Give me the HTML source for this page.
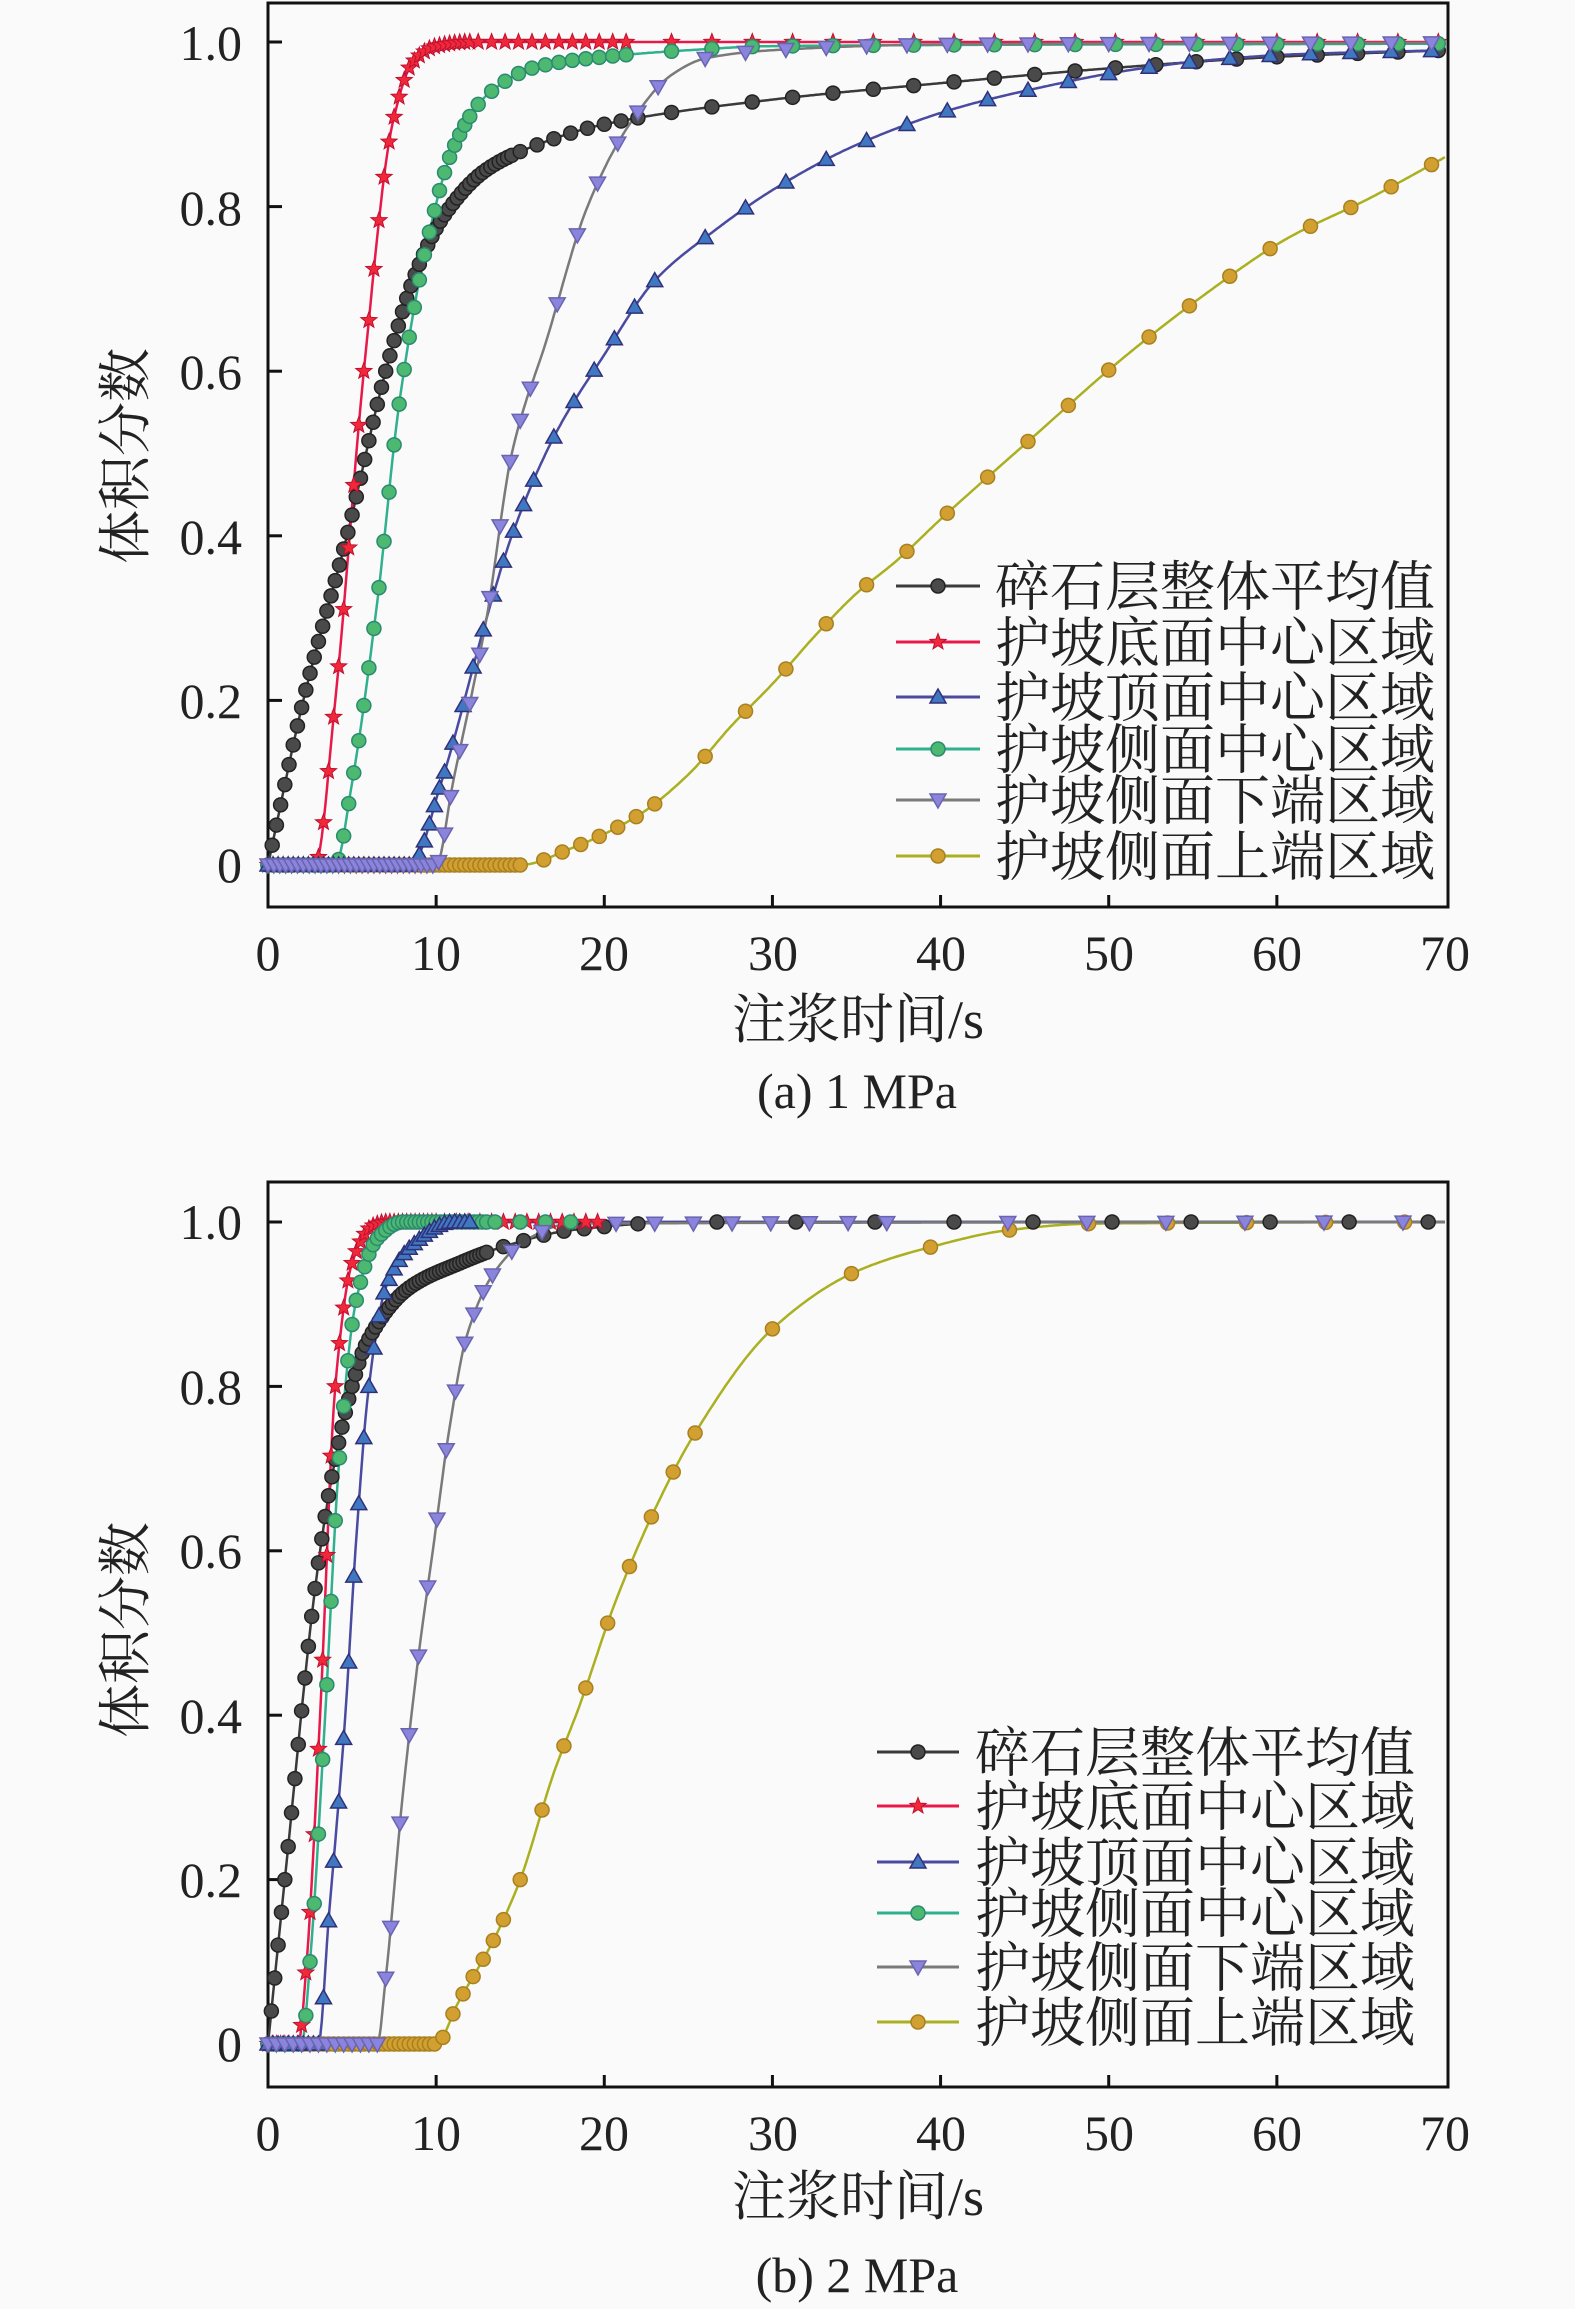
<!DOCTYPE html>
<html><head><meta charset="utf-8">
<style>
html,body{margin:0;padding:0;background:#fafafa;}
svg{display:block;}
text{font-family:"Liberation Serif","Noto Serif CJK SC",serif;fill:#222;}
</style></head>
<body>
<svg id="s" width="1575" height="2309" viewBox="0 0 1575 2309" xmlns="http://www.w3.org/2000/svg">
<rect width="1575" height="2309" fill="#fafafa"/>
<g font-size="50" text-anchor="end">
<text x="242" y="60">1.0</text><text x="242" y="225">0.8</text><text x="242" y="389">0.6</text>
<text x="242" y="554">0.4</text><text x="242" y="718">0.2</text><text x="242" y="882">0</text>
</g>
<g font-size="50" text-anchor="middle">
<text x="268" y="970">0</text><text x="436" y="970">10</text><text x="604" y="970">20</text><text x="773" y="970">30</text>
<text x="941" y="970">40</text><text x="1109" y="970">50</text><text x="1277" y="970">60</text><text x="1445" y="970">70</text>
</g>
<text x="858" y="1038" font-size="54" text-anchor="middle">注浆时间/s</text>
<text x="857" y="1108" font-size="50" text-anchor="middle">(a) 1 MPa</text>
<text transform="translate(144,456) rotate(-90)" font-size="54" text-anchor="middle">体积分数</text>
<g font-size="50" text-anchor="end">
<text x="242" y="1239">1.0</text><text x="242" y="1404">0.8</text><text x="242" y="1568">0.6</text>
<text x="242" y="1733">0.4</text><text x="242" y="1897">0.2</text><text x="242" y="2061">0</text>
</g>
<g font-size="50" text-anchor="middle">
<text x="268" y="2150">0</text><text x="436" y="2150">10</text><text x="604" y="2150">20</text><text x="773" y="2150">30</text>
<text x="941" y="2150">40</text><text x="1109" y="2150">50</text><text x="1277" y="2150">60</text><text x="1445" y="2150">70</text>
</g>
<text x="858" y="2215" font-size="54" text-anchor="middle">注浆时间/s</text>
<text x="857" y="2292" font-size="50" text-anchor="middle">(b) 2 MPa</text>
<text transform="translate(144,1630) rotate(-90)" font-size="54" text-anchor="middle">体积分数</text>
<g id="plots"></g>
</svg>
<script>
(function(){
var NS="http://www.w3.org/2000/svg";
var root=document.getElementById('plots');
function el(n,a,p){var e=document.createElementNS(NS,n);for(var k in a)e.setAttribute(k,a[k]);(p||root).appendChild(e);return e;}
function pchip(P){
  var n=P.length,xs=P.map(p=>p[0]),ys=P.map(p=>p[1]),h=[],d=[],m=[];
  for(var i=0;i<n-1;i++){h[i]=xs[i+1]-xs[i];d[i]=(ys[i+1]-ys[i])/h[i];}
  m[0]=d[0];m[n-1]=d[n-2];
  for(var i=1;i<n-1;i++){ if(d[i-1]*d[i]<=0)m[i]=0; else{var w1=2*h[i]+h[i-1],w2=h[i]+2*h[i-1];m[i]=(w1+w2)/(w1/d[i-1]+w2/d[i]);}}
  return function(t){
    if(t<=xs[0])return ys[0]; if(t>=xs[n-1])return ys[n-1];
    var i=0;while(t>xs[i+1])i++;
    var s=(t-xs[i])/h[i],s2=s*s,s3=s2*s;
    return (2*s3-3*s2+1)*ys[i]+(s3-2*s2+s)*h[i]*m[i]+(-2*s3+3*s2)*ys[i+1]+(s3-s2)*h[i]*m[i+1];
  };
}
function marker(type,x,y,g){
  var r=7;
  if(type=='c'){el('circle',{cx:x,cy:y,r:r,fill:g.fill,stroke:g.edge,'stroke-width':1.5});}
  else if(type=='s'){var p=[];for(var k=0;k<10;k++){var a=-Math.PI/2+k*Math.PI/5,rr=k%2?3.6:8.5;p.push((x+rr*Math.cos(a)).toFixed(1)+','+(y+rr*Math.sin(a)).toFixed(1));}
    el('polygon',{points:p.join(' '),fill:g.fill,stroke:g.edge,'stroke-width':1});}
  else if(type=='u'){el('polygon',{points:(x)+','+(y-8)+' '+(x-8)+','+(y+6)+' '+(x+8)+','+(y+6),fill:g.fill,stroke:g.edge,'stroke-width':1.5});}
  else if(type=='d'){el('polygon',{points:(x)+','+(y+8)+' '+(x-8)+','+(y-6)+' '+(x+8)+','+(y-6),fill:g.fill,stroke:g.edge,'stroke-width':1.5});}
}
var ST={
 k:{line:'#3a3a3a',fill:'#4a4a4a',edge:'#222',m:'c'},
 r:{line:'#e8194a',fill:'#f0283a',edge:'#c01030',m:'s'},
 b:{line:'#4a4aa0',fill:'#3f78c0',edge:'#30307a',m:'u'},
 g:{line:'#30b08c',fill:'#4cb870',edge:'#2a8a70',m:'c'},
 p:{line:'#7a7a7a',fill:'#8a84dc',edge:'#6a64b0',m:'d'},
 y:{line:'#aab020',fill:'#d2a030',edge:'#a88020',m:'c'}
};
function chart(y0,y1,series){
  var X0=268,sx=(1445-268)/70;
  function X(t){return X0+t*sx;} function Y(v){return y0+(y1-y0)*v;}
  series.forEach(function(s){
    var st=ST[s.c],f=pchip(s.p),pts=[];
    for(var t=0;t<=70.001;t+=0.1)pts.push(X(t).toFixed(1)+','+Y(Math.min(1,Math.max(0,f(t)))).toFixed(1));
    el('polyline',{points:pts.join(' '),fill:'none',stroke:st.line,'stroke-width':2.5});
  });
  series.forEach(function(s){
    var st=ST[s.c],f=pchip(s.p);
    s.mk.forEach(function(seg){for(var t=seg[0];t<=seg[1]+1e-6;t+=seg[2]){var v=Math.min(1,Math.max(0,f(t)));marker(st.m,X(t),Y(v),st);}});
  });
}
function frame(top,bot,y0,y1){
  el('rect',{x:268,y:top,width:1180,height:bot-top,fill:'none',stroke:'#111','stroke-width':3});
  for(var i=1;i<7;i++){var x=268+i*(1445-268)/7;el('line',{x1:x,y1:bot,x2:x,y2:bot-12,stroke:'#111','stroke-width':3});}
  for(var j=0;j<=5;j++){var y=y0+(y1-y0)*j/5;el('line',{x1:268,y1:y,x2:282,y2:y,stroke:'#111','stroke-width':3});}
}
function legend(x1,x2,tx,ys,fs){
  var keys=['k','r','b','g','p','y'],labs=['碎石层整体平均值','护坡底面中心区域','护坡顶面中心区域','护坡侧面中心区域','护坡侧面下端区域','护坡侧面上端区域'];
  keys.forEach(function(k,i){var st=ST[k];var y=ys[i];
    el('line',{x1:x1,y1:y,x2:x2,y2:y,stroke:st.line,'stroke-width':3});
    marker(st.m,(x1+x2)/2,y,st);
    var t=el('text',{x:tx,y:y+fs*0.36,'font-size':fs,textLength:440,lengthAdjust:'spacingAndGlyphs'});t.textContent=labs[i];});
}
var A=[
 {c:'y',p:[[0,0],[15,0],[18,0.02],[22,0.06],[25,0.11],[27.6,0.17],[30,0.22],[32.6,0.28],[35,0.33],[37.4,0.37],[40,0.42],[45.5,0.52],[50.5,0.61],[55.5,0.69],[60.5,0.76],[65.5,0.81],[70,0.86]],
  mk:[[0,15,0.3],[16.4,24,1.1],[26,70,2.4]]},
 {c:'k',p:[[0,0],[2.1,0.2],[4.7,0.4],[7,0.6],[8.8,0.72],[10.5,0.79],[13,0.845],[16,0.875],[20,0.9],[30,0.93],[40,0.95],[50,0.968],[60,0.982],[70,0.99]],
  mk:[[0,14.5,0.25],[15,22,1],[24,70,2.4]]},
 {c:'r',p:[[0,0],[2.8,0],[4,0.2],[5.7,0.6],[7.4,0.9],[8.6,0.975],[10,0.995],[12,1],[70,1]],
  mk:[[0,12,0.3],[12.5,22,0.8],[24,70,2.4]]},
 {c:'g',p:[[0,0],[4,0],[5,0.1],[6.5,0.32],[7.8,0.56],[9.5,0.76],[11,0.87],[13,0.935],[16,0.97],[20,0.982],[25,0.99],[30,0.995],[70,0.998]],
  mk:[[0,12,0.3],[12.5,22,0.8],[24,70,2.4]]},
 {c:'b',p:[[0,0],[8.5,0],[10.3,0.1],[13,0.3],[14.5,0.4],[17,0.52],[20,0.62],[23,0.71],[26.5,0.77],[30,0.82],[35,0.875],[41,0.92],[46,0.945],[51,0.965],[56,0.978],[61,0.985],[70,0.99]],
  mk:[[0,10.5,0.3],[11,16,0.6],[17,24,1.2],[26,70,2.4]]},
 {c:'p',p:[[0,0],[10,0],[11,0.1],[13,0.3],[14.5,0.5],[16.6,0.64],[19,0.8],[21.5,0.9],[24,0.96],[26,0.98],[30,0.99],[40,0.997],[70,0.999]],
  mk:[[0,11,0.35],[11.4,16,0.6],[17.2,24,1.2],[26,70,2.4]]}
];
frame(3,907,865,42);
chart(865,42,A);
legend(896,980,995,[586,642,697,749,800,856],54);
var B=[
 {c:'y',p:[[0,0],[10,0],[11.3,0.05],[13.5,0.13],[15,0.2],[17,0.33],[18.5,0.41],[20.7,0.54],[23,0.65],[25.3,0.74],[30,0.87],[35,0.94],[39.5,0.97],[44,0.99],[49,0.998],[70,1]],
  mk:[[0,10,0.3],[10.4,14,0.6],[15,26,1.3],[30,70,4.7]]},
 {c:'k',p:[[0,0],[1,0.2],[2.9,0.57],[3.8,0.69],[5,0.8],[5.8,0.85],[8.4,0.92],[11.4,0.95],[14,0.97],[18,0.99],[25,1],[70,1]],
  mk:[[0,13,0.2],[14,20,1.2],[22,70,4.7]]},
 {c:'r',p:[[0,0],[1.8,0],[2.3,0.1],[3.1,0.4],[4,0.8],[5,0.95],[6.2,0.995],[7,1],[70,1]],
  mk:[[0,10,0.25],[10.5,20,0.7]]},
 {c:'g',p:[[0,0],[2,0],[2.5,0.1],[3.4,0.4],[4.2,0.7],[5.2,0.9],[6.5,0.98],[8,1],[70,1]],
  mk:[[0,13,0.25],[13.5,18,1.5]]},
 {c:'b',p:[[0,0],[3,0],[3.6,0.15],[4.6,0.4],[5.2,0.6],[6,0.8],[7,0.92],[8.5,0.97],[11,1],[70,1]],
  mk:[[0,12,0.3]]},
 {c:'p',p:[[0,0],[6.5,0],[7,0.08],[8,0.3],[9,0.48],[9.8,0.6],[10.8,0.75],[11.8,0.86],[13.5,0.94],[15.5,0.98],[18,0.998],[70,1]],
  mk:[[0,7,0.5],[7.3,13.5,0.55],[14.5,18,1.8],[20.7,39,2.3],[44,70,4.7]]}
];
frame(1182,2087,2044,1222);
chart(2044,1222,B);
legend(877,959,975,[1752,1806,1862,1913,1967,2022],54);
})();
</script>
</body></html>
